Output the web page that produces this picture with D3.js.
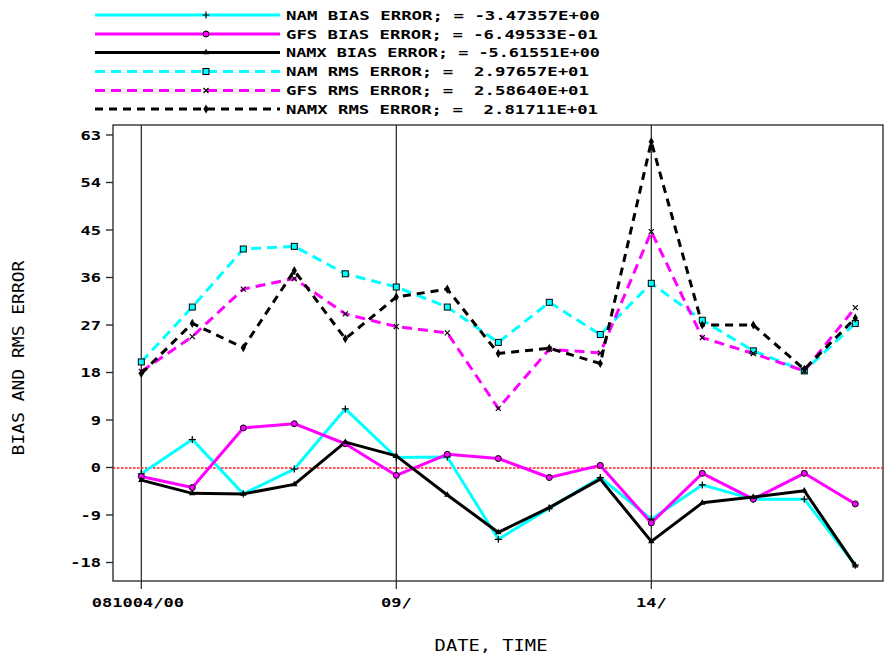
<!DOCTYPE html>
<html>
<head>
<meta charset="utf-8">
<script src="https://cdn.jsdelivr.net/npm/d3@7/dist/d3.min.js"></script>
<style>
  html, body { margin: 0; padding: 0; background: #fff; }
  svg { display: block; }
  .mono { font-family: "DejaVu Sans Mono", "Liberation Mono", monospace; white-space: pre; }
</style>
</head>
<body>
<svg id="chart" width="888" height="656"></svg>
<script>
// Verification period: one point per day, 081004 through 081018 (00Z)
const days = d3.range(15);
const xTickDays = [0, 5, 10];
const xTickLabels = ["081004/00", "09/", "14/"];
const yTicks = [-18, -9, 0, 9, 18, 27, 36, 45, 54, 63];

// Bias errors
const namBias  = [-1.2, 5.3, -5.0, -0.3, 11.1, 1.9, 2.0, -13.6, -7.7, -1.9, -9.8, -3.3, -6.0, -6.0, -18.5];
const gfsBias  = [-1.7, -3.8, 7.5, 8.3, 4.5, -1.5, 2.5, 1.7, -1.9, 0.4, -10.5, -1.1, -6.0, -1.1, -6.9];
const namxBias = [-2.4, -4.9, -5.0, -3.2, 4.8, 2.2, -5.2, -12.3, -7.6, -2.2, -14.0, -6.7, -5.6, -4.4, -18.6];

// RMS errors
const namRms  = [20.0, 30.4, 41.4, 41.9, 36.7, 34.2, 30.4, 23.7, 31.3, 25.2, 34.9, 27.9, 22.1, 18.3, 27.3];
const gfsRms  = [18.2, 24.8, 33.8, 35.8, 29.1, 26.7, 25.5, 11.2, 22.4, 21.7, 44.7, 24.6, 21.6, 18.3, 30.3];
const namxRms = [17.8, 27.3, 22.7, 37.3, 24.4, 32.3, 33.8, 21.6, 22.6, 19.7, 61.7, 27.0, 27.0, 18.6, 28.3];

const legendLabels = [
  "NAM BIAS ERROR; = -3.47357E+00",
  "GFS BIAS ERROR; = -6.49533E-01",
  "NAMX BIAS ERROR; = -5.61551E+00",
  "NAM RMS ERROR; =  2.97657E+01",
  "GFS RMS ERROR; =  2.58640E+01",
  "NAMX RMS ERROR; =  2.81711E+01"
];

const seriesList = [
  { values: namBias,  color: "#00ffff", dash: null,  marker: "plus" },
  { values: gfsBias,  color: "#ff00ff", dash: null,  marker: "circle" },
  { values: namxBias, color: "#000000", dash: null,  marker: "triangle" },
  { values: namRms,   color: "#00ffff", dash: "10,6", marker: "square" },
  { values: gfsRms,   color: "#ff00ff", dash: "10,6", marker: "x" },
  { values: namxRms,  color: "#000000", dash: "8,6", marker: "diamond" }
];
const legendWidths = [314, 312, 314, 303, 303, 312];

const svg = d3.select("#chart");
const frame = { left: 113, right: 883, top: 125, bottom: 581 };

const x = d3.scaleLinear().domain([0, 14]).range([141.3, 855.3]);
const y = d3.scaleLinear().domain([-18, 63]).range([562.5, 135]);

// Plot frame
svg.append("rect")
  .attr("x", frame.left).attr("y", frame.top)
  .attr("width", frame.right - frame.left).attr("height", frame.bottom - frame.top)
  .attr("fill", "none").attr("stroke", "#222").attr("stroke-width", 1.3);

// Y axis ticks and labels
const yAxis = svg.append("g");
yTicks.forEach(t => {
  yAxis.append("line")
    .attr("x1", frame.left - 7).attr("x2", frame.left)
    .attr("y1", y(t)).attr("y2", y(t))
    .attr("stroke", "#222").attr("stroke-width", 1.3);
  yAxis.append("text")
    .attr("class", "mono")
    .attr("transform", `translate(101,${y(t) + 4.5}) scale(1.42,1)`)
    .attr("text-anchor", "end")
    .attr("font-size", 12).attr("font-weight", "bold")
    .text(t < 0 ? "-" + Math.abs(t) : String(t));
});

// X axis: vertical day lines, ticks and labels
const xAxis = svg.append("g");
xTickDays.forEach((d, i) => {
  xAxis.append("line")
    .attr("x1", x(d)).attr("x2", x(d))
    .attr("y1", frame.top).attr("y2", frame.bottom + 8)
    .attr("stroke", "#222").attr("stroke-width", 1.2);
  xAxis.append("text")
    .attr("class", "mono")
    .attr("transform", `translate(${x(d) - (i === 0 ? 3.5 : 0)},607) scale(1.42,1)`)
    .attr("text-anchor", "middle")
    .attr("font-size", 12).attr("font-weight", "bold")
    .text(xTickLabels[i]);
});

// Zero reference line (snapped to the pixel grid so it stays crisp red)
const zeroY = Math.round(y(0));
svg.append("line")
  .attr("x1", frame.left).attr("x2", frame.right)
  .attr("y1", zeroY).attr("y2", zeroY)
  .attr("stroke", "#ff1a1a").attr("stroke-width", 1.6)
  .attr("stroke-dasharray", "2.5,1.5");

// Axis titles
svg.append("text")
  .attr("class", "mono")
  .attr("transform", "translate(491,651) scale(1.25,1)")
  .attr("text-anchor", "middle")
  .attr("font-size", 15)
  .text("DATE, TIME");

svg.append("text")
  .attr("class", "mono")
  .attr("transform", "translate(24,358) rotate(-90) scale(1.2,1)")
  .attr("text-anchor", "middle")
  .attr("font-size", 15)
  .text("BIAS AND RMS ERROR");

// Marker drawing
function drawMarker(g, kind, cx, cy, color) {
  const m = g.append("g").attr("transform", `translate(${cx},${cy})`);
  switch (kind) {
    case "plus":
      m.append("path").attr("d", "M-3.5,0H3.5M0,-3.5V3.5")
        .attr("stroke", "#000").attr("stroke-width", 1.2).attr("fill", "none");
      break;
    case "circle":
      m.append("circle").attr("r", 3)
        .attr("fill", color).attr("stroke", "#000").attr("stroke-width", 1);
      break;
    case "triangle":
      m.append("path").attr("d", d3.symbol(d3.symbolTriangle, 18)())
        .attr("fill", "#000");
      break;
    case "square":
      m.append("rect").attr("x", -3).attr("y", -3).attr("width", 6).attr("height", 6)
        .attr("fill", color).attr("stroke", "#000").attr("stroke-width", 1);
      break;
    case "x":
      m.append("path").attr("d", "M-2.5,-2.5L2.5,2.5M-2.5,2.5L2.5,-2.5")
        .attr("stroke", "#000").attr("stroke-width", 1.2).attr("fill", "none");
      break;
    case "diamond":
      m.append("path").attr("d", d3.symbol(d3.symbolDiamond, 24)())
        .attr("fill", "#000");
      break;
  }
}

// Series lines and markers
const line = d3.line().x((d, i) => x(days[i])).y(d => y(d));
const plot = svg.append("g");
seriesList.forEach(s => {
  plot.append("path")
    .datum(s.values)
    .attr("d", line)
    .attr("fill", "none")
    .attr("stroke", s.color)
    .attr("stroke-width", 3)
    .attr("stroke-linejoin", "round")
    .attr("stroke-dasharray", s.dash);
});
seriesList.forEach(s => {
  s.values.forEach((v, i) => drawMarker(plot, s.marker, x(days[i]), y(v), s.color));
});

// Legend
const legend = svg.append("g");
const legendRows = [15, 34, 52.5, 71.5, 90.5, 109];
seriesList.forEach((s, i) => {
  const ly = legendRows[i];
  legend.append("line")
    .attr("x1", 95).attr("x2", 280)
    .attr("y1", ly).attr("y2", ly)
    .attr("stroke", s.color).attr("stroke-width", 3)
    .attr("stroke-dasharray", s.dash);
  drawMarker(legend, s.marker, 206, ly, s.color);
  legend.append("text")
    .attr("class", "mono")
    .attr("x", 286).attr("y", ly + 4.5)
    .attr("font-size", 12).attr("font-weight", "bold")
    .attr("textLength", legendWidths[i])
    .attr("lengthAdjust", "spacingAndGlyphs")
    .text(legendLabels[i]);
});
</script>
</body>
</html>
